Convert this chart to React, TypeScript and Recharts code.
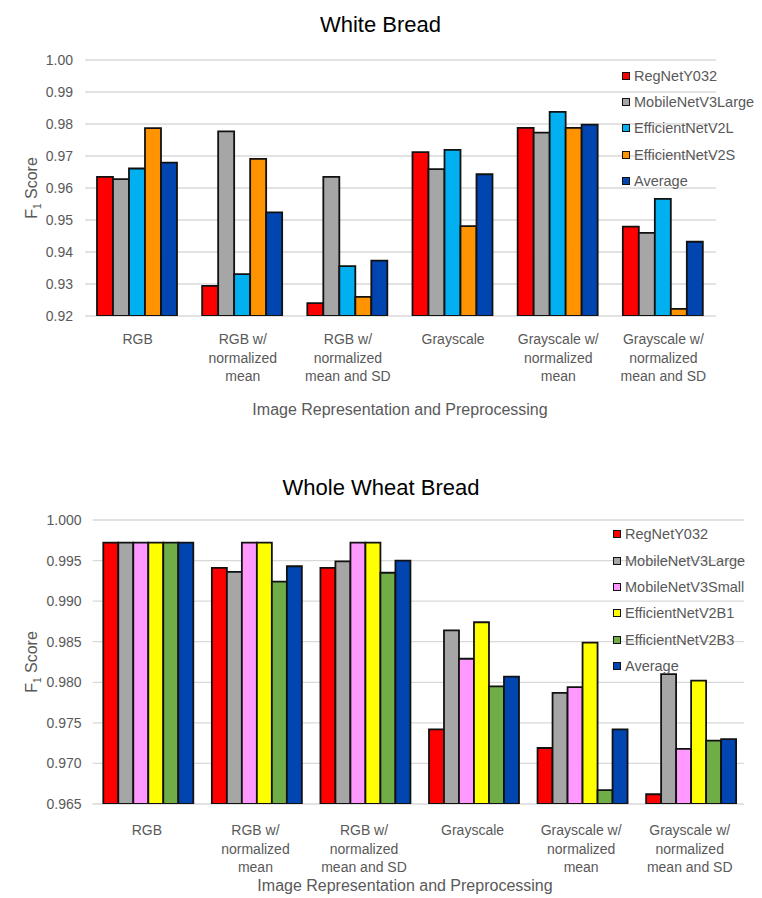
import React from 'react';
import {
  BarChart, Bar, XAxis, YAxis, CartesianGrid, Legend,
} from 'recharts';

const FONT = '"Liberation Sans", Arial, sans-serif';
const TEXT_GRAY = '#595959';

const categories = [
  'RGB',
  'RGB w/\nnormalized\nmean',
  'RGB w/\nnormalized\nmean and SD',
  'Grayscale',
  'Grayscale w/\nnormalized\nmean',
  'Grayscale w/\nnormalized\nmean and SD',
];

// White bread F1 scores
const whiteRegNetY032 = [0.9635, 0.9294, 0.9240, 0.9712, 0.9788, 0.9479];
const whiteMobileNetV3Large = [0.9628, 0.9777, 0.9635, 0.9659, 0.9773, 0.9460];
const whiteEfficientNetV2L = [0.9661, 0.9331, 0.9356, 0.9719, 0.9838, 0.9566];
const whiteEfficientNetV2S = [0.9787, 0.9691, 0.9260, 0.9481, 0.9788, 0.9222];
const whiteAverage = [0.9679, 0.9524, 0.9373, 0.9643, 0.9798, 0.9432];
const whiteTicks = [0.92, 0.93, 0.94, 0.95, 0.96, 0.97, 0.98, 0.99, 1.0];

// Whole wheat bread F1 scores
const wheatRegNetY032 = [0.9972, 0.9941, 0.9941, 0.9742, 0.9719, 0.9662];
const wheatMobileNetV3Large = [0.9972, 0.9936, 0.9949, 0.9864, 0.9787, 0.9810];
const wheatMobileNetV3Small = [0.9972, 0.9972, 0.9972, 0.9829, 0.9794, 0.9718];
const wheatEfficientNetV2B1 = [0.9972, 0.9972, 0.9972, 0.9874, 0.9849, 0.9802];
const wheatEfficientNetV2B3 = [0.9972, 0.9924, 0.9935, 0.9795, 0.9667, 0.9728];
const wheatAverage = [0.9972, 0.9943, 0.9950, 0.9807, 0.9742, 0.9730];
const wheatTicks = [0.965, 0.97, 0.975, 0.98, 0.985, 0.99, 0.995, 1.0];

const whiteSeries = [
  { key: 'RegNetY032', values: whiteRegNetY032, color: '#FF0000' },
  { key: 'MobileNetV3Large', values: whiteMobileNetV3Large, color: '#A6A6A6' },
  { key: 'EfficientNetV2L', values: whiteEfficientNetV2L, color: '#00B0F0' },
  { key: 'EfficientNetV2S', values: whiteEfficientNetV2S, color: '#FF9300' },
  { key: 'Average', values: whiteAverage, color: '#0045B0' },
];

const wheatSeries = [
  { key: 'RegNetY032', values: wheatRegNetY032, color: '#FF0000' },
  { key: 'MobileNetV3Large', values: wheatMobileNetV3Large, color: '#A6A6A6' },
  { key: 'MobileNetV3Small', values: wheatMobileNetV3Small, color: '#FF99FF' },
  { key: 'EfficientNetV2B1', values: wheatEfficientNetV2B1, color: '#FFFF00' },
  { key: 'EfficientNetV2B3', values: wheatEfficientNetV2B3, color: '#70AD47' },
  { key: 'Average', values: wheatAverage, color: '#0045B0' },
];

type Series = { key: string; values: number[]; color: string };

const buildRows = (series: Series[]) =>
  categories.map((name, i) => {
    const row: Record<string, string | number> = { name };
    series.forEach(s => { row[s.key] = s.values[i]; });
    return row;
  });

const CategoryTick = ({ x, y, payload, offset }: any) => {
  const lines = String(payload.value).split('\n');
  return (
    <text x={x} y={y + offset} textAnchor="middle" fill={TEXT_GRAY} fontSize={14} fontFamily={FONT}>
      {lines.map((l, i) => (
        <tspan key={i} x={x} dy={i === 0 ? 0 : 18.5}>{l}</tspan>
      ))}
    </text>
  );
};

// legend keeps the series order (recharts sorts its payload by name otherwise)
const makeLegend = (series: Series[]) => ({ payload }: any) => {
  const shown = new Set((payload || []).map((e: any) => e.value));
  return (
    <div style={{ fontFamily: FONT, fontSize: 14.5, color: TEXT_GRAY }}>
      {series.filter(s => shown.size === 0 || shown.has(s.key)).map(s => (
        <div key={s.key} style={{ display: 'flex', alignItems: 'center', height: 26.3, whiteSpace: 'nowrap' }}>
          <span style={{
            display: 'inline-block', boxSizing: 'border-box', width: 8, height: 8,
            background: s.color, border: '1.5px solid #111', marginRight: 4,
          }} />
          <span>{s.key}</span>
        </div>
      ))}
    </div>
  );
};

const centered = (x: number, y: number, extra: React.CSSProperties = {}): React.CSSProperties => ({
  position: 'absolute', left: x, top: y, transform: 'translate(-50%, -50%)',
  whiteSpace: 'nowrap', fontFamily: FONT, ...extra,
});

const YLabel = ({ x, y }: { x: number; y: number }) => (
  <div style={centered(x, y, { transform: 'translate(-50%, -50%) rotate(-90deg)', fontSize: 16, color: TEXT_GRAY })}>
    F<sub style={{ fontSize: 10 }}>1</sub> Score
  </div>
);

const App: React.FC = () => {
  const whiteRows = buildRows(whiteSeries);
  const wheatRows = buildRows(wheatSeries);

  return (
    <div style={{ position: 'absolute', left: 0, top: 0, width: 762, height: 898, background: '#fff' }}>
      <div style={{ position: 'absolute', left: 0, top: 0 }}>
        <BarChart
          width={762}
          height={440}
          data={whiteRows}
          margin={{ top: 60, right: 46, left: 40, bottom: 44 }}
          barCategoryGap="11.4%"
          barGap={0}
        >
          <CartesianGrid vertical={false} stroke="#d9d9d9" strokeWidth={1.3} />
          <XAxis
            dataKey="name"
            interval={0}
            height={80}
            axisLine={false}
            tickLine={false}
            tickSize={0}
            tick={<CategoryTick offset={26} />}
          />
          <YAxis
            width={45}
            domain={[0.92, 1.0]}
            ticks={whiteTicks}
            allowDataOverflow
            axisLine={false}
            tickLine={false}
            tickSize={0}
            tickMargin={12}
            tickFormatter={(v: number) => v.toFixed(2)}
            tick={{ fill: TEXT_GRAY, fontSize: 14, fontFamily: FONT }}
          />
          <Legend
            layout="horizontal"
            verticalAlign="middle"
            align="center"
            wrapperStyle={{ left: 622, top: 62.5, width: 140 }}
            content={makeLegend(whiteSeries)}
          />
          {whiteSeries.map(s => (
            <Bar key={s.key} dataKey={s.key} fill={s.color} stroke="#111" strokeWidth={1.8} isAnimationActive={false} />
          ))}
        </BarChart>
      </div>

      <div style={{ position: 'absolute', left: 0, top: 440 }}>
        <BarChart
          width={762}
          height={458}
          data={wheatRows}
          margin={{ top: 80, right: 18, left: 40, bottom: 24 }}
          barCategoryGap="9.85%"
          barGap={0}
        >
          <CartesianGrid vertical={false} stroke="#d9d9d9" strokeWidth={1.3} />
          <XAxis
            dataKey="name"
            interval={0}
            height={70}
            axisLine={false}
            tickLine={false}
            tickSize={0}
            tick={<CategoryTick offset={29} />}
          />
          <YAxis
            width={52.6}
            domain={[0.965, 1.0]}
            ticks={wheatTicks}
            allowDataOverflow
            axisLine={false}
            tickLine={false}
            tickSize={0}
            tickMargin={11}
            tickFormatter={(v: number) => v.toFixed(3)}
            tick={{ fill: TEXT_GRAY, fontSize: 14, fontFamily: FONT }}
          />
          <Legend
            layout="horizontal"
            verticalAlign="middle"
            align="center"
            wrapperStyle={{ left: 613, top: 81.3, width: 150 }}
            content={makeLegend(wheatSeries)}
          />
          {wheatSeries.map(s => (
            <Bar key={s.key} dataKey={s.key} fill={s.color} stroke="#111" strokeWidth={1.8} isAnimationActive={false} />
          ))}
        </BarChart>
      </div>

      <div style={centered(380.5, 25, { fontSize: 22, color: '#000' })}>White Bread</div>
      <div style={centered(381, 488, { fontSize: 22, color: '#000' })}>Whole Wheat Bread</div>
      <div style={centered(400, 410, { fontSize: 16, color: TEXT_GRAY })}>Image Representation and Preprocessing</div>
      <div style={centered(405, 886, { fontSize: 16, color: TEXT_GRAY })}>Image Representation and Preprocessing</div>
      <YLabel x={33} y={188} />
      <YLabel x={33} y={662} />
    </div>
  );
};

export default App;
